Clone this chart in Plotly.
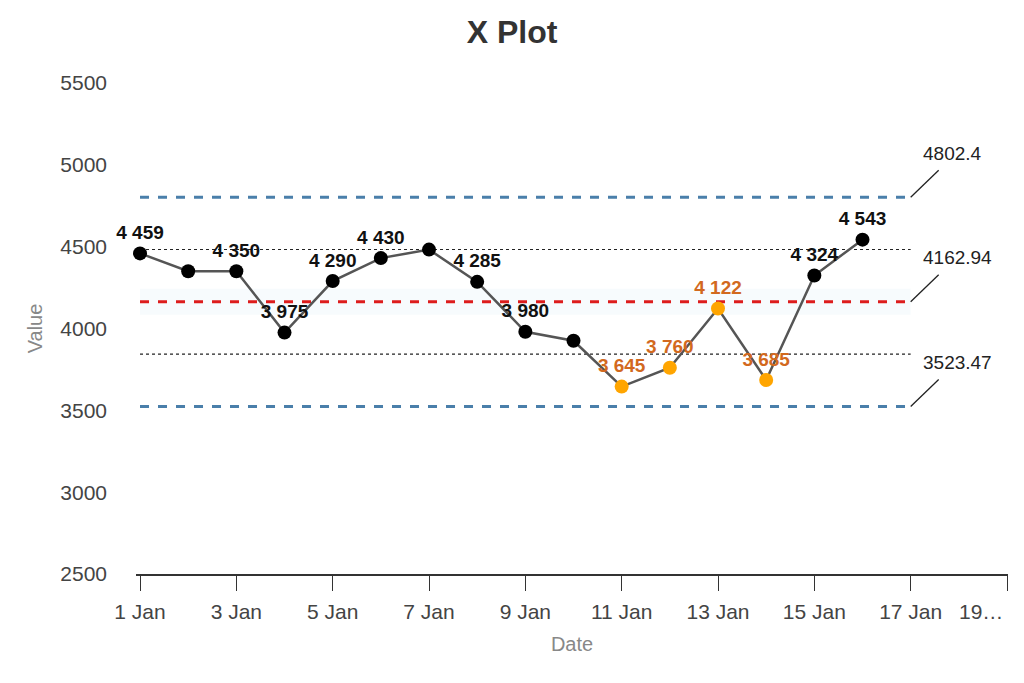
import plotly.graph_objects as go
import pandas as pd

# Data
dates = pd.date_range("2025-01-01", periods=16, freq="D").strftime("%Y-%m-%d").tolist()
values = [4459, 4350, 4350, 3975, 4290, 4430, 4482, 4285, 3980, 3925, 3645, 3760, 4122, 3685, 4324, 4543]
flagged = [False] * 10 + [True] * 4 + [False] * 2
show_label = [True, False, True, True, True, True, False, True, True, False, True, True, True, True, True, True]

ucl = 4802.4
cl = 4162.94
lcl = 3523.47
upper_zone = 4482.67
lower_zone = 3843.2
limit_start = "2025-01-01"
limit_end = "2025-01-17"

tick_vals = ["2025-01-01", "2025-01-03", "2025-01-05", "2025-01-07", "2025-01-09",
             "2025-01-11", "2025-01-13", "2025-01-15", "2025-01-17", "2025-01-19"]
tick_text = ["1 Jan", "3 Jan", "5 Jan", "7 Jan", "9 Jan", "11 Jan", "13 Jan", "15 Jan", "17 Jan", "19…"]

FONT = "Liberation Sans, Arial, sans-serif"
COLORS = {
    'line': '#555555',
    'point': '#000000',
    'flag': '#FFA500',
    'flag_text': '#D2691E',
    'limit': '#4A7FAA',
    'center': '#DD1C1C',
    'axis_text': '#444444',
    'title_text': '#888888',
}

fig = go.Figure()

# faint band behind the centre line
fig.add_trace(go.Scatter(x=[limit_start, limit_end], y=[cl, cl], mode='lines',
                         line=dict(color='rgba(190,225,235,0.12)', width=26),
                         hoverinfo='skip', showlegend=False))

# zone lines (dotted)
for v in [upper_zone, lower_zone]:
    fig.add_trace(go.Scatter(x=[limit_start, limit_end], y=[v, v], mode='lines',
                             line=dict(color='#222222', width=1.2, dash='dot'),
                             hoverinfo='skip', showlegend=False))

# control limits
for v, c in [(ucl, COLORS['limit']), (lcl, COLORS['limit']), (cl, COLORS['center'])]:
    fig.add_trace(go.Scatter(x=[limit_start, limit_end], y=[v, v], mode='lines',
                             line=dict(color=c, width=3, dash='dash'),
                             hoverinfo='skip', showlegend=False))

# the series
fig.add_trace(go.Scatter(x=dates, y=values, mode='lines',
                         line=dict(color=COLORS['line'], width=2.5), showlegend=False))

labels = [f"{v:,}".replace(",", " ") if s else "" for v, s in zip(values, show_label)]
fig.add_trace(go.Scatter(
    x=dates, y=values, mode='markers+text', cliponaxis=False,
    marker=dict(size=14, color=[COLORS['flag'] if f else COLORS['point'] for f in flagged]),
    text=labels, textposition='top center',
    textfont=dict(family=FONT, size=19, weight='bold',
                  color=[COLORS['flag_text'] if f else '#111111' for f in flagged]),
    showlegend=False))

# limit labels with leader lines
for v in [ucl, cl, lcl]:
    fig.add_shape(type='line', xref='x', yref='y',
                  xsizemode='pixel', ysizemode='pixel',
                  xanchor=limit_end, yanchor=v,
                  x0=0, x1=28, y0=0, y1=27,
                  line=dict(color='#222222', width=1.3))
    fig.add_annotation(x=limit_end, y=v, text=f"{v:g}", showarrow=False,
                       xanchor='left', yanchor='middle', xshift=10, yshift=44,
                       font=dict(family=FONT, size=19, color='#222222'))

# last tick label is squeezed against the edge, so place it by hand
fig.add_annotation(x=tick_vals[-1], y=0, xref='x', yref='paper', text=tick_text[-1],
                   showarrow=False, xanchor='right', yanchor='middle', xshift=-2, yshift=-37,
                   font=dict(family=FONT, size=21, color=COLORS['axis_text']))

fig.update_layout(
    width=1008, height=667,
    paper_bgcolor='white', plot_bgcolor='white',
    margin=dict(l=128, r=8, t=75, b=101, autoexpand=False),
    title=dict(text='<b>X Plot</b>', x=0.5, xanchor='center', y=0.964, yanchor='middle',
               font=dict(family=FONT, size=32, color='#333333')),
    font=dict(family=FONT),
    xaxis=dict(
        range=["2024-12-31 22:00", "2025-01-19 00:30"],
        tickvals=tick_vals, ticktext=tick_text[:-1] + [""],
        showline=True, linecolor='#333333', linewidth=1.5,
        ticks='outside', ticklen=15, tickcolor='#333333', tickwidth=1.2,
        ticklabelstandoff=3,
        showgrid=False, zeroline=False, automargin=False,
        tickfont=dict(size=21, color=COLORS['axis_text']),
        title=dict(text='Date', standoff=15, font=dict(size=20, color=COLORS['title_text'])),
    ),
    yaxis=dict(
        range=[2500, 5500], dtick=500,
        showline=False, showgrid=False, zeroline=False, automargin=False,
        ticks='', ticklabelstandoff=28,
        tickfont=dict(size=21, color=COLORS['axis_text']),
        title=dict(text='Value', standoff=12, font=dict(size=20, color=COLORS['title_text'])),
    ),
)

fig.write_html("out.html")
